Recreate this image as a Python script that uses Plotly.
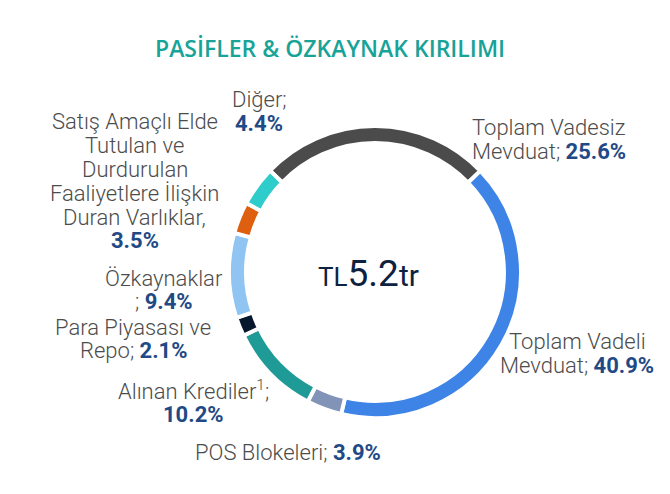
import plotly.graph_objects as go

# ---- data ----
categories = [
    "Toplam Vadesiz Mevduat",
    "Toplam Vadeli Mevduat",
    "POS Blokeleri",
    "Alınan Krediler¹",
    "Para Piyasası ve Repo",
    "Özkaynaklar",
    "Satış Amaçlı Elde Tutulan ve Durdurulan Faaliyetlere İlişkin Duran Varlıklar",
    "Diğer",
]
values = [25.6, 40.9, 3.9, 10.2, 2.1, 9.4, 3.5, 4.4]
title_text = "PASİFLER & ÖZKAYNAK KIRILIMI"
total_parts = ["TL", "5.2", "tr"]

# ---- styling / layout ----
colors = ["#4b4b4b", "#3d84e6", "#8193b7", "#1f9b97", "#06172e",
          "#90c4f2", "#de5f10", "#2ecccb"]
W, H = 670, 494
cx, cy, R = 367, 264, 146
label_font = "Roboto, sans-serif"
text_gray = "#4c4c4c"
val_blue = "#1f4a86"

# per category: label lines ({v} = value), centre x, centre y of each line (pixels)
label_layout = [
    (["Toplam Vadesiz", "Mevduat; {v}"], 541, [120, 143]),
    (["Toplam Vadeli", "Mevduat; {v}"], 569, [333, 357]),
    (["POS Blokeleri; {v}"], 280, [444]),
    (["Alınan Krediler<sup>1</sup>;", "{v}"], 185, [382, 406]),
    (["Para Piyasası ve", "Repo; {v}"], 125, [319, 342]),
    (["Özkaynaklar", "; {v}"], 156, [270, 293]),
    (["Satış Amaçlı Elde", "Tutulan ve", "Durdurulan", "Faaliyetlere İlişkin",
      "Duran Varlıklar,", "{v}"], 127, [113, 137, 161, 185, 209, 232]),
    (["Diğer;", "{v}"], 251, [92, 115]),
]

fig = go.Figure()
fig.add_trace(go.Pie(
    labels=categories,
    values=values,
    sort=False,
    direction="clockwise",
    rotation=-46,
    hole=0.883,
    marker=dict(colors=colors, line=dict(color="white", width=4)),
    textinfo="none",
    textposition="none",
    hoverinfo="label+percent",
    showlegend=False,
    domain=dict(x=[(cx - R) / W, (cx + R) / W], y=[1 - (cy + R) / H, 1 - (cy - R) / H]),
))

annotations = []
for (lines, px, pys), v in zip(label_layout, values):
    vtxt = f"<span style='color:{val_blue}'><b>{v:.1f}%</b></span>"
    for line, py in zip(lines, pys):
        annotations.append(dict(
            x=px / W, y=1 - py / H, xref="paper", yref="paper",
            text=line.replace("{v}", vtxt), showarrow=False,
            xanchor="center", yanchor="middle", align="center",
            font=dict(family=label_font, size=22, color=text_gray, weight=300),
        ))

annotations.append(dict(
    x=322 / W, y=1 - 40 / H, xref="paper", yref="paper",
    text=title_text, showarrow=False, xanchor="center", yanchor="middle",
    font=dict(family="Open Sans, sans-serif", size=23, color="#17a398", weight=600),
))
annotations.append(dict(
    x=361 / W, y=1 - 265 / H, xref="paper", yref="paper",
    text=(f"<span style='font-size:26px'>{total_parts[0]}</span>"
          f"<span style='font-size:37px'>{total_parts[1]}</span>"
          f"<span style='font-size:30px'>{total_parts[2]}</span>"),
    showarrow=False, xanchor="center", yanchor="middle",
    font=dict(family="Roboto, sans-serif", size=30, color="#0d2240"),
))

fig.update_layout(
    width=W, height=H,
    margin=dict(l=0, r=0, t=0, b=0),
    paper_bgcolor="white", plot_bgcolor="white",
    annotations=annotations,
)
fig.write_html("out.html")
